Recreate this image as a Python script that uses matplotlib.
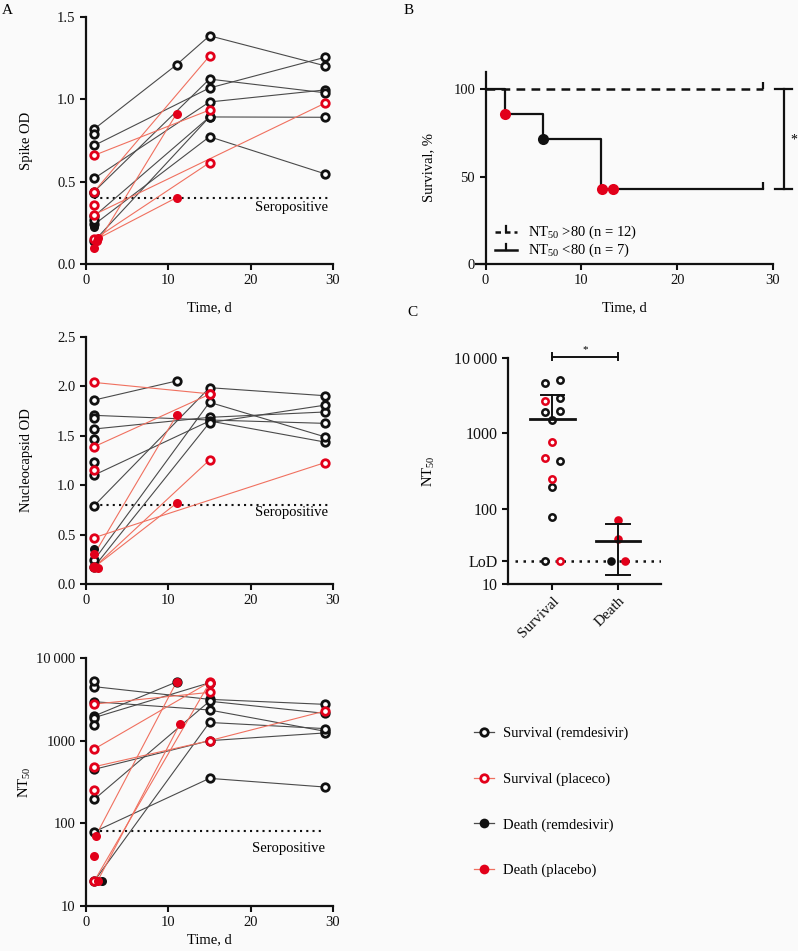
import matplotlib
matplotlib.use("Agg")
import matplotlib.pyplot as plt
from matplotlib.lines import Line2D

plt.rcParams['font.family'] = ['Liberation Serif', 'DejaVu Serif']
plt.rcParams['mathtext.fontset'] = 'custom'
plt.rcParams['mathtext.rm'] = 'Liberation Serif'
plt.rcParams['mathtext.default'] = 'regular'
plt.rcParams['font.size'] = 10

# ── Data ─────────────────────────────────────────────────────────────────────
# groups: SR survival remdesivir, SP survival placebo, DR death remdesivir, DP death placebo
spike_days = [[1, 11, 15, 29], [1, 15, 29], [1, 15, 29], [1, 15, 29], [1, 15, 29],
              [1, 15, 29], [1, 15], [1], [1], [1],
              [1, 15], [1, 15], [1, 15], [1, 29], [1],
              [1], [1.5, 11], [1, 11], [1.3]]
spike_vals = [[0.82, 1.21, 1.386, 1.204], [0.72, 1.069, 1.255], [0.52, 0.984, 1.057],
              [0.44, 1.123, 1.04], [0.29, 0.893, 0.891], [0.24, 0.773, 0.548],
              [0.14, 0.893], [0.79], [0.43], [0.27],
              [0.66, 0.935], [0.44, 1.263], [0.15, 0.615], [0.30, 0.976], [0.36],
              [0.225], [0.156, 0.403], [0.095, 0.913], [0.14]]
spike_grp = ['SR'] * 10 + ['SP'] * 5 + ['DR'] + ['DP'] * 3

nucl_days = [[1, 11], [1, 15, 29], [1, 15, 29], [1, 15, 29], [1, 15, 29],
             [1, 15, 29], [1, 15, 29], [1], [1], [1],
             [1, 15], [1, 15], [1, 29], [1, 15], [1],
             [1], [1, 11], [1, 11], [1.5]]
nucl_vals = [[1.862, 2.055], [1.707, 1.66, 1.626], [1.569, 1.687, 1.741],
             [0.793, 1.987, 1.906], [1.103, 1.65, 1.437], [0.243, 1.839, 1.49],
             [0.175, 1.633, 1.81], [1.68], [1.468], [1.238],
             [2.04, 1.925], [1.39, 1.92], [0.469, 1.228], [0.17, 1.255], [1.154],
             [0.35], [0.30, 1.707], [0.17, 0.817], [0.165]]
nucl_grp = ['SR'] * 10 + ['SP'] * 5 + ['DR'] + ['DP'] * 3

nt_days = [[1, 15, 29], [1, 15, 29], [1, 11], [1, 15], [1, 15, 29],
           [1, 15, 29], [1, 15, 29], [1, 15, 29], [1], [1],
           [1, 15], [1, 15], [1, 15, 29], [1], [1, 15],
           [1.9], [1.2, 11], [1], [1.4, 11.4]]
nt_vals = [[4500, 3160, 2750], [2960, 2350, 1300], [1990, 5130], [1900, 5020],
           [450, 1000, 1240], [195, 3000, 2140], [79, 350, 275], [20, 1660, 1400],
           [5200], [1530],
           [2770, 3840], [792, 5100], [484, 1000, 2280], [253], [20, 5000],
           [20], [71, 5130], [40], [20, 1585]]
nt_grp = ['SR'] * 10 + ['SP'] * 5 + ['DR'] + ['DP'] * 3

# survival curves (panel B)
km_hi_t = [0, 29]
km_hi_s = [100, 100]
km_lo_t = [0, 2, 6, 12, 29]
km_lo_s = [100, 85.7, 71.4, 42.9, 42.9]
death_t = [2, 6, 12.2, 13.3]
death_s = [85.7, 71.4, 42.9, 42.9]
death_g = ['DP', 'DR', 'DP', 'DP']

# NT50 by outcome (panel C)
c_groups = ['Survival', 'Death']
surv_vals = [5100, 4620, 2920, 1940, 1980, 1500, 433, 192, 78, 20, 2710, 774, 466, 245, 20]
surv_grp = ['SR'] * 10 + ['SP'] * 5
surv_jit = [0.11, -0.11, 0.11, -0.11, 0.11, 0, 0.11, 0, 0, -0.11, -0.11, 0, -0.11, 0, 0.11]
dead_vals = [71, 40, 20, 20]
dead_grp = ['DP', 'DP', 'DR', 'DP']
dead_jit = [0, 0, -0.11, 0.11]
c_mean = [1540, 37.6]
c_lo = [1540, 13.2]
c_hi = [3230, 62]
lod = 20

leg_labels = ['Survival (remdesivir)', 'Survival (placeco)', 'Death (remdesivir)', 'Death (placebo)']
leg_grp = ['SR', 'SP', 'DR', 'DP']

# ── Styles ───────────────────────────────────────────────────────────────────
BG = '#fafafa'
RED = '#e2001a'
BLK = '#111111'
edge = {'SR': BLK, 'SP': RED, 'DR': BLK, 'DP': RED}
face = {'SR': 'white', 'SP': 'white', 'DR': BLK, 'DP': RED}
lcol = {'SR': '#4a4a4a', 'SP': '#f0705f', 'DR': '#4a4a4a', 'DP': '#f0705f'}


def style_ax(ax):
    for s in ['top', 'right']:
        ax.spines[s].set_visible(False)
    for s in ['left', 'bottom']:
        ax.spines[s].set_linewidth(1.6)
        ax.spines[s].set_color(BLK)
    ax.tick_params(direction='out', length=4, width=1.5, labelsize=10.5, colors=BLK)
    ax.tick_params(which='minor', length=0)
    ax.set_facecolor(BG)


def draw_traj(ax, days, vals, grp):
    for d, v, g in zip(days, vals, grp):
        ax.plot(d, v, color=lcol[g], lw=0.8, zorder=2)
    for d, v, g in zip(days, vals, grp):
        if g in ('SR', 'SP'):
            ax.plot(d, v, 'o', ms=5.4, mew=2.0, mec=edge[g], mfc=face[g], ls='none', zorder=3)
        else:
            ax.plot(d, v, 'o', ms=6.5, mew=0, mfc=face[g], ls='none', zorder=4)


fig = plt.figure(figsize=(7.98, 9.51), dpi=100, facecolor=BG)
W, H = 798, 951


def add_ax(x0, y0, x1, y1):
    return fig.add_axes([x0 / W, 1 - y1 / H, (x1 - x0) / W, (y1 - y0) / H])


# ── A1 Spike ─────────────────────────────────────────────────────────────────
ax1 = add_ax(86, 17, 333, 264)
draw_traj(ax1, spike_days, spike_vals, spike_grp)
ax1.hlines(0.4, 1, 29.4, colors=BLK, linestyles=(0, (1, 2)), lw=1.5, zorder=1)
ax1.text(29.4, 0.345, 'Seropositive', ha='right', va='center', fontsize=10.5)
ax1.set_xlim(0, 30)
ax1.set_ylim(0, 1.5)
ax1.set_xticks([0, 10, 20, 30])
ax1.set_yticks([0, 0.5, 1.0, 1.5])
ax1.set_yticklabels(['0.0', '0.5', '1.0', '1.5'])
ax1.set_ylabel('Spike OD', fontsize=10.5)
ax1.yaxis.set_label_coords(-0.215, 0.5)
ax1.set_xlabel('Time, d', fontsize=10.5, labelpad=10)
style_ax(ax1)

# ── A2 Nucleocapsid ──────────────────────────────────────────────────────────
ax2 = add_ax(86, 337, 333, 584)
draw_traj(ax2, nucl_days, nucl_vals, nucl_grp)
ax2.hlines(0.8, 1, 29.4, colors=BLK, linestyles=(0, (1, 2)), lw=1.5, zorder=1)
ax2.text(29.4, 0.72, 'Seropositive', ha='right', va='center', fontsize=10.5)
ax2.set_xlim(0, 30)
ax2.set_ylim(0, 2.5)
ax2.set_xticks([0, 10, 20, 30])
ax2.set_yticks([0, 0.5, 1.0, 1.5, 2.0, 2.5])
ax2.set_yticklabels(['0.0', '0.5', '1.0', '1.5', '2.0', '2.5'])
ax2.set_ylabel('Nucleocapsid OD', fontsize=10.5)
ax2.yaxis.set_label_coords(-0.215, 0.5)
style_ax(ax2)

# ── A3 NT50 ──────────────────────────────────────────────────────────────────
ax3 = add_ax(86, 658, 333, 906)
ax3.set_yscale('log')
draw_traj(ax3, nt_days, nt_vals, nt_grp)
ax3.hlines(80, 1.7, 29.0, colors=BLK, linestyles=(0, (1, 2)), lw=1.5, zorder=1)
ax3.text(29.0, 50, 'Seropositive', ha='right', va='center', fontsize=10.5)
ax3.set_xlim(0, 30)
ax3.set_ylim(10, 10000)
ax3.set_xticks([0, 10, 20, 30])
ax3.set_yticks([10, 100, 1000, 10000])
ax3.set_yticklabels(['10', '100', '1000', '10\u2009000'])
ax3.set_ylabel('NT$_{50}$', fontsize=10.5)
ax3.yaxis.set_label_coords(-0.215, 0.5)
ax3.set_xlabel('Time, d', fontsize=10.5, labelpad=3)
style_ax(ax3)

# ── B Survival ───────────────────────────────────────────────────────────────
axb = add_ax(476, 71.5, 773, 264)
axb.step(km_hi_t, km_hi_s, where='post', color=BLK, lw=1.8, ls=(0, (3.5, 2.5)))
axb.step(km_lo_t, km_lo_s, where='post', color=BLK, lw=1.6)
axb.plot(km_hi_t[-1], km_hi_s[-1], marker=2, ms=5, mew=1.6, color=BLK)
axb.plot(km_lo_t[-1], km_lo_s[-1], marker=2, ms=5, mew=1.6, color=BLK)
for t, s, g in zip(death_t, death_s, death_g):
    axb.plot(t, s, 'o', ms=8, mew=0, mfc=face[g], zorder=4)
# significance bracket
axb.plot([31.1, 31.1], [km_lo_s[-1], km_hi_s[-1]], color=BLK, lw=1.6, clip_on=False)
axb.plot([30.2, 32.0], [km_hi_s[-1]] * 2, color=BLK, lw=1.6, clip_on=False)
axb.plot([30.2, 32.0], [km_lo_s[-1]] * 2, color=BLK, lw=1.6, clip_on=False)
axb.text(32.2, 71, '*', ha='center', va='center', fontsize=10, clip_on=False)
axb.set_xlim(-1, 30)
axb.set_ylim(0, 110)
axb.spines['left'].set_position(('data', 0))
axb.set_xticks([0, 10, 20, 30])
axb.set_yticks([0, 50, 100])
axb.set_ylabel('Survival, %', fontsize=10.5)
axb.yaxis.set_label_coords(-0.138, 0.5)
axb.set_xlabel('Time, d', fontsize=10.5, labelpad=10)
style_ax(axb)
# legend of panel B
for yy, ls, lab in [(0.166, (0, (2.2, 1.6)), 'NT$_{50}$ >80 (n = 12)'),
                    (0.073, '-', 'NT$_{50}$ <80 (n = 7)')]:
    axb.add_line(Line2D([0.064, 0.138], [yy, yy], transform=axb.transAxes,
                        color=BLK, lw=1.8, ls=ls))
    axb.add_line(Line2D([0.101, 0.101], [yy, yy + 0.03], transform=axb.transAxes,
                        color=BLK, lw=1.6))
    axb.text(0.175, yy, lab, transform=axb.transAxes, ha='left', va='center', fontsize=10.5)

# ── C NT50 by outcome ────────────────────────────────────────────────────────
axc = add_ax(508, 358, 661, 584)
axc.set_yscale('log')
axc.hlines(lod, -0.57, 1.66, colors=BLK, linestyles=(0, (1, 2.2)), lw=1.8, zorder=1)
for pos, vals, grp, jit in [(0, surv_vals, surv_grp, surv_jit), (1, dead_vals, dead_grp, dead_jit)]:
    for v, g, j in zip(vals, grp, jit):
        if g in ('SR', 'SP'):
            axc.plot(pos + j, v, 'o', ms=4.6, mew=1.8, mec=edge[g], mfc=face[g], zorder=3)
        else:
            axc.plot(pos + j, v, 'o', ms=6.2, mew=0, mfc=face[g], zorder=3)
for pos in range(2):
    axc.plot([pos - 0.34, pos + 0.34], [c_mean[pos]] * 2, color=BLK, lw=2.0, zorder=4)
    axc.plot([pos, pos], [c_lo[pos], c_hi[pos]], color=BLK, lw=1.4, zorder=4)
    axc.plot([pos - 0.18, pos + 0.18], [c_hi[pos]] * 2, color=BLK, lw=1.4, zorder=4)
    if c_lo[pos] < c_mean[pos]:
        axc.plot([pos - 0.18, pos + 0.18], [c_lo[pos]] * 2, color=BLK, lw=1.4, zorder=4)
axc.plot([0, 1], [10400, 10400], color=BLK, lw=1.4, clip_on=False)
axc.plot([0, 0], [9300, 11600], color=BLK, lw=1.4, clip_on=False)
axc.plot([1, 1], [9300, 11600], color=BLK, lw=1.4, clip_on=False)
axc.text(0.5, 12800, '*', ha='center', va='center', fontsize=8, clip_on=False)
axc.set_xlim(-0.68, 1.66)
axc.set_ylim(10, 10000)
axc.set_xticks([0, 1])
axc.set_xticklabels(c_groups, rotation=45, ha='right', rotation_mode='anchor')
axc.set_yticks([10, lod, 100, 1000, 10000])
axc.set_yticklabels(['10', 'LoD', '100', '1000', '10\u2009000'])
axc.set_ylabel('NT$_{50}$', fontsize=10.5)
axc.yaxis.set_label_coords(-0.464, 0.5)
style_ax(axc)
axc.tick_params(axis='y', labelsize=11.5)
axc.tick_params(axis='x', labelsize=11)

# ── Group legend ─────────────────────────────────────────────────────────────
handles = []
for g in leg_grp:
    if g in ('SR', 'SP'):
        handles.append(Line2D([], [], color=lcol[g], lw=0.9, marker='o', ms=5.4,
                              mew=2.0, mec=edge[g], mfc=face[g]))
    else:
        handles.append(Line2D([], [], color=lcol[g], lw=0.9, marker='o', ms=7,
                              mew=0, mfc=face[g]))
fig.legend(handles, leg_labels, loc='upper left', bbox_to_anchor=(474 / W, 1 - 727 / H),
           frameon=False, fontsize=10.5, handlelength=1.4, handletextpad=0.6,
           labelspacing=2.2, borderpad=0, borderaxespad=0)

# ── Panel letters ────────────────────────────────────────────────────────────
fig.text(2 / W, 1 - 10 / H, 'A', fontsize=11, va='center')
fig.text(404 / W, 1 - 10 / H, 'B', fontsize=11, va='center')
fig.text(407 / W, 1 - 313 / H, 'C', fontsize=11, va='center')

fig.savefig('out.png', dpi=100, facecolor=BG)
